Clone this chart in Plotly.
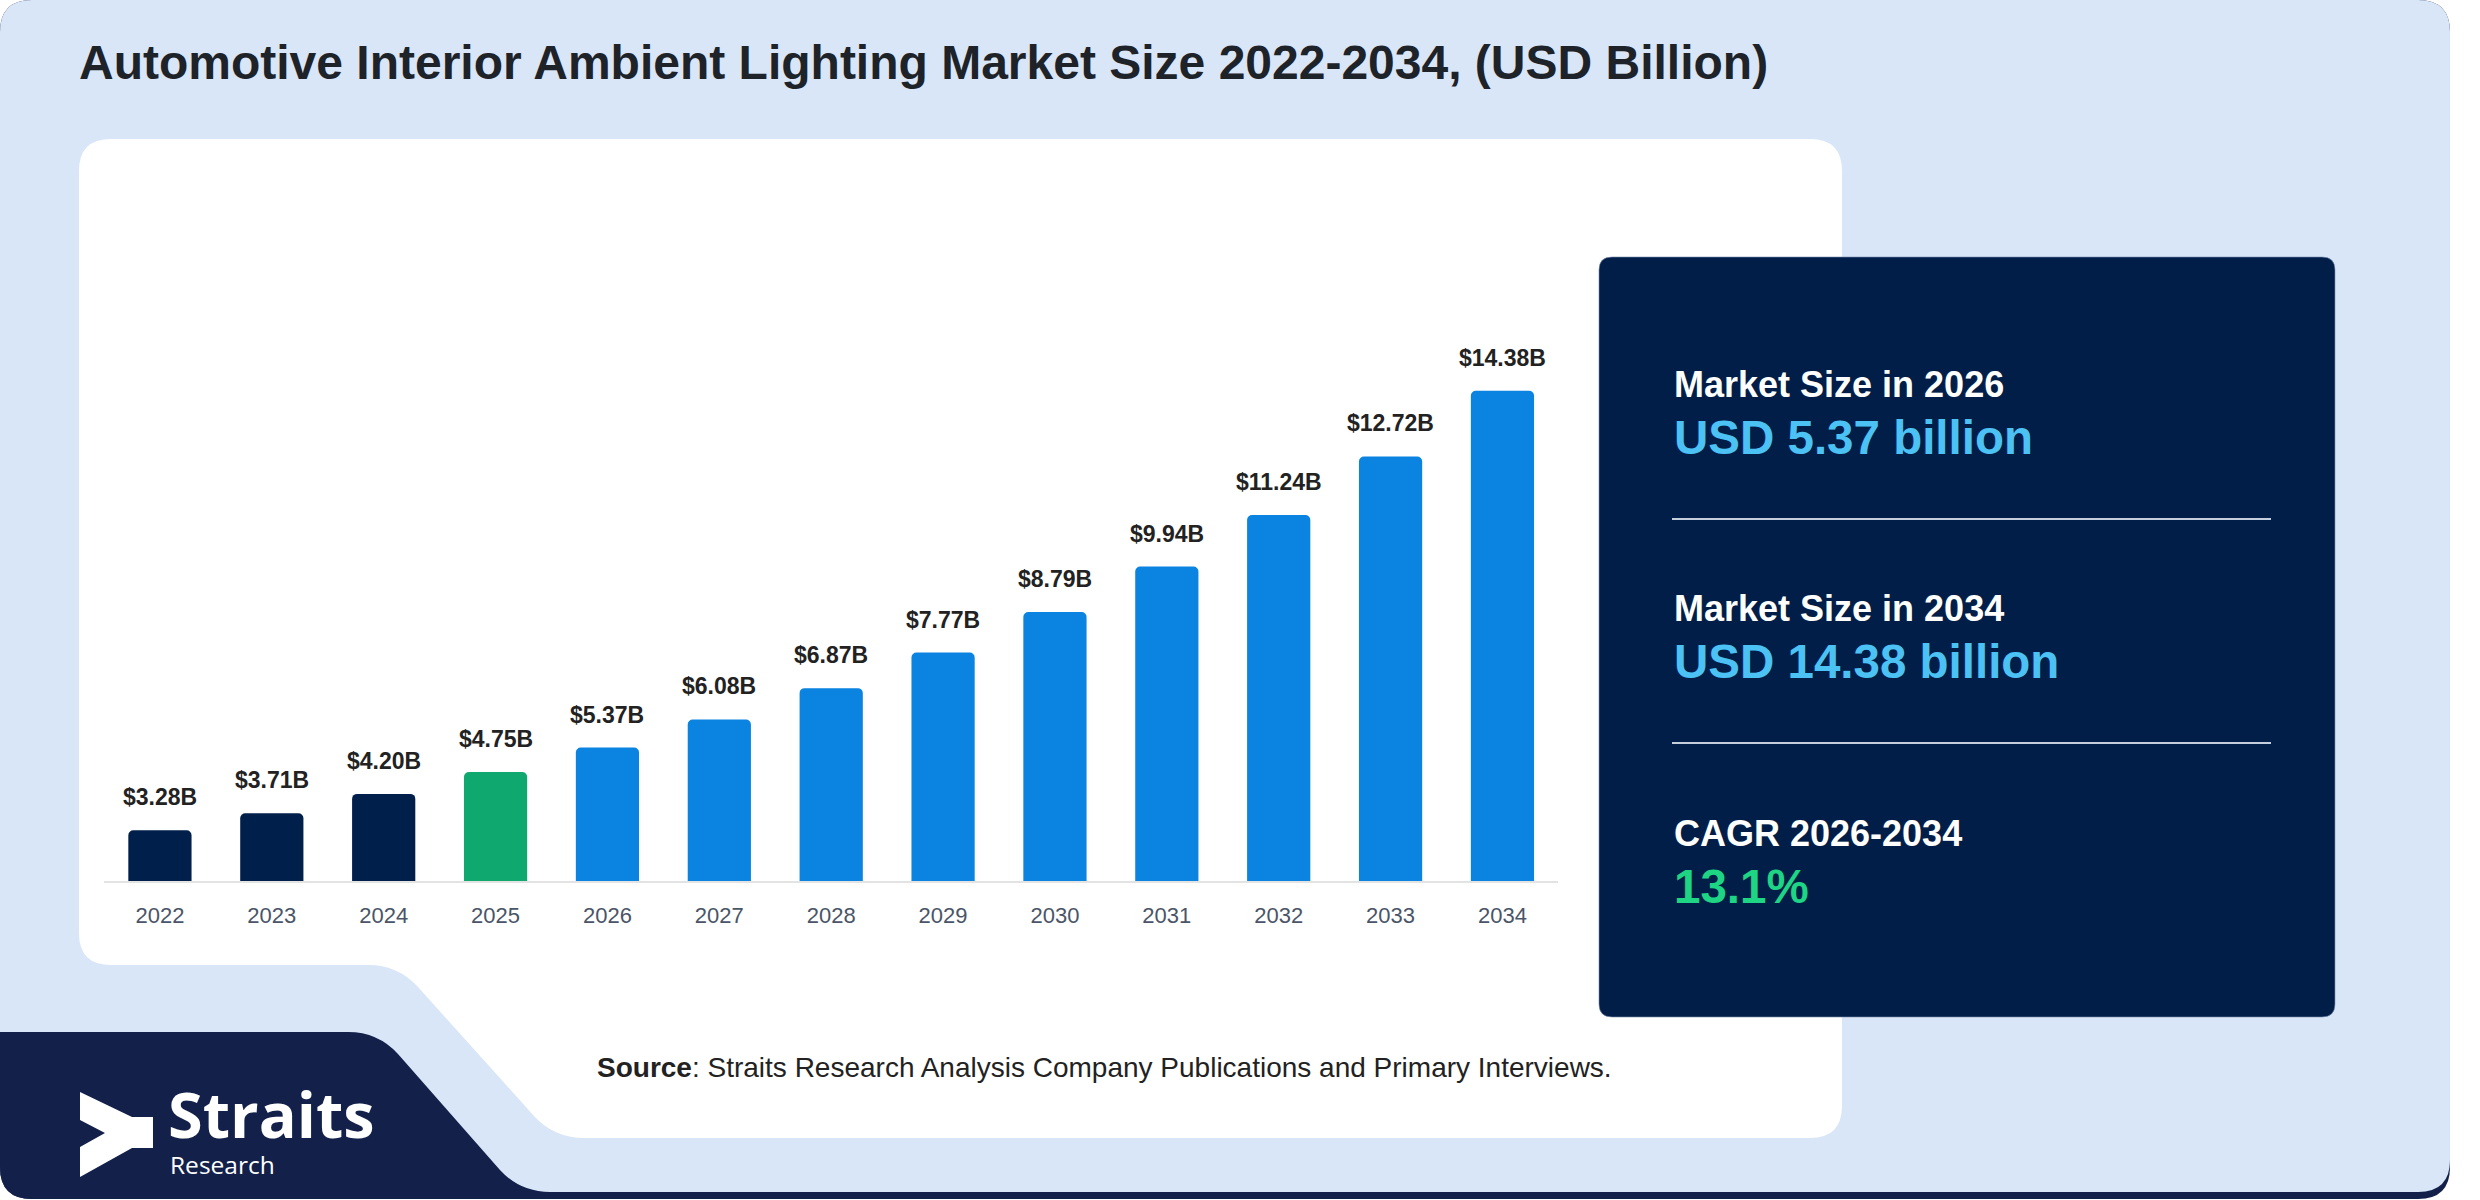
import plotly.graph_objects as go

# ---------------- data ----------------
years = ["2022", "2023", "2024", "2025", "2026", "2027", "2028",
         "2029", "2030", "2031", "2032", "2033", "2034"]
market_size = [3.28, 3.71, 4.20, 4.75, 5.37, 6.08, 6.87,
               7.77, 8.79, 9.94, 11.24, 12.72, 14.38]
base_year = 2025

title_text = "Automotive Interior Ambient Lighting Market Size 2022-2034, (USD Billion)"
stat_labels = ["Market Size in 2026", "Market Size in 2034", "CAGR 2026-2034"]
stat_values = ["USD 5.37 billion", "USD 14.38 billion", "13.1%"]
source_text = "<b>Source</b>: Straits Research Analysis Company Publications and Primary Interviews."

# ---------------- styling ----------------
W, H = 2480, 1200
FONT = "Liberation Sans, Arial, sans-serif"
LIGHT_BG = "#D9E6F8"
NAVY_LOGO = "#13214A"
PANEL = "#001E47"
C_HIST = "#001F4B"
C_BASE = "#0FA86E"
C_FORE = "#0A83E1"


def px(x):
    return x / W


def py(y):
    return 1 - y / H


def path(cmds):
    out = []
    for c in cmds:
        if isinstance(c, str):
            out.append(c)
        else:
            out.append(f"{px(c[0]):.5f},{py(c[1]):.5f}")
    return " ".join(out)


def rrect(x0, y0, x1, y1, r):
    return path(["M", (x0 + r, y0), "L", (x1 - r, y0), "Q", (x1, y0), (x1, y0 + r),
                 "L", (x1, y1 - r), "Q", (x1, y1), (x1 - r, y1),
                 "L", (x0 + r, y1), "Q", (x0, y1), (x0, y1 - r),
                 "L", (x0, y0 + r), "Q", (x0, y0), (x0 + r, y0), "Z"])


shapes = []
# bottom shadow + outer light background
shapes.append(dict(type="path", xref="paper", yref="paper", layer="below",
                   path=rrect(0, 0, 2450, 1199, 32), fillcolor=NAVY_LOGO, line=dict(width=0)))
shapes.append(dict(type="path", xref="paper", yref="paper", layer="below",
                   path=rrect(0, 0, 2450, 1192, 32), fillcolor=LIGHT_BG, line=dict(width=0)))
# navy logo block
shapes.append(dict(type="path", xref="paper", yref="paper", layer="below",
                   path=path(["M", (0, 1032), "L", (348, 1032), "Q", (378, 1032), (398, 1054),
                              "L", (500, 1170), "Q", (520, 1192), (550, 1192),
                              "L", (550, 1199), "L", (32, 1199), "Q", (0, 1199), (0, 1167), "Z"]),
                   fillcolor=NAVY_LOGO, line=dict(width=0)))
# white chart panel with notch
shapes.append(dict(type="path", xref="paper", yref="paper", layer="below",
                   path=path(["M", (111, 139), "L", (1810, 139), "Q", (1842, 139), (1842, 171),
                              "L", (1842, 1106), "Q", (1842, 1138), (1810, 1138),
                              "L", (584, 1138), "Q", (554, 1138), (534, 1116),
                              "L", (418, 987), "Q", (398, 965), (368, 965),
                              "L", (111, 965), "Q", (79, 965), (79, 933),
                              "L", (79, 171), "Q", (79, 139), (111, 139), "Z"]),
                   fillcolor="#FFFFFF", line=dict(width=0)))
# right stats panel
shapes.append(dict(type="path", xref="paper", yref="paper", layer="below",
                   path=rrect(1599, 257, 2335, 1017, 13), fillcolor=PANEL,
                   line=dict(width=1, color="rgba(120,140,175,0.6)")))
for ly in (519, 743):
    shapes.append(dict(type="line", xref="paper", yref="paper", layer="below",
                       x0=px(1672), x1=px(2271), y0=py(ly), y1=py(ly),
                       line=dict(color="#C5CEDD", width=2)))
# logo chevron
shapes.append(dict(type="path", xref="paper", yref="paper", layer="below",
                   path=path(["M", (80, 1092), "L", (132, 1117), "L", (153, 1117), "L", (153, 1148),
                              "L", (132, 1148), "L", (80, 1177), "L", (80, 1147),
                              "L", (105, 1133), "L", (80, 1120), "Z"]),
                   fillcolor="#FFFFFF", line=dict(width=0)))

colors = []
for yv in years:
    yi = int(yv)
    colors.append(C_HIST if yi < base_year else (C_BASE if yi == base_year else C_FORE))

fig = go.Figure()
fig.add_trace(go.Bar(x=years, y=market_size, marker=dict(color=colors, cornerradius=5, line=dict(width=0)),
                     hoverinfo="x+y", showlegend=False))

annotations = []
for i, v in enumerate(market_size):
    annotations.append(dict(x=i, y=v, xref="x", yref="y", text=f"<b>${v:.2f}B</b>",
                            showarrow=False, yanchor="middle", yshift=33,
                            font=dict(family=FONT, size=23, color="#222222")))

annotations.append(dict(x=px(77), y=py(63), xref="paper", yref="paper", xanchor="left", yanchor="middle",
                        text=f"<b>{title_text}</b>", showarrow=False,
                        font=dict(family=FONT, size=48, color="#1E2329")))

label_y = [385, 609, 833]
value_y = [437, 661, 886]
value_colors = ["#4CC2F4", "#4CC2F4", "#1DD583"]
for lab, val, ly, vy, vc in zip(stat_labels, stat_values, label_y, value_y, value_colors):
    annotations.append(dict(x=px(1672), y=py(ly), xref="paper", yref="paper", xanchor="left",
                            yanchor="middle", text=f"<b>{lab}</b>", showarrow=False,
                            font=dict(family=FONT, size=36, color="#FFFFFF")))
    annotations.append(dict(x=px(1672), y=py(vy), xref="paper", yref="paper", xanchor="left",
                            yanchor="middle", text=f"<b>{val}</b>", showarrow=False,
                            font=dict(family=FONT, size=47.5, color=vc)))

annotations.append(dict(x=px(595), y=py(1067), xref="paper", yref="paper", xanchor="left",
                        yanchor="middle", text=source_text, showarrow=False,
                        font=dict(family=FONT, size=28, color="#222222")))

annotations.append(dict(x=px(166), y=py(1113), xref="paper", yref="paper", xanchor="left",
                        yanchor="middle", text="<b>Straits</b>", showarrow=False,
                        font=dict(family="Open Sans, sans-serif", size=63, color="#FFFFFF")))
annotations.append(dict(x=px(168), y=py(1164), xref="paper", yref="paper", xanchor="left",
                        yanchor="middle", text="Research", showarrow=False,
                        font=dict(family="Open Sans, sans-serif", size=24.5, color="#FFFFFF")))

fig.update_layout(
    width=W, height=H, autosize=False,
    margin=dict(l=0, r=0, t=0, b=0, pad=0),
    paper_bgcolor="#FFFFFF", plot_bgcolor="rgba(0,0,0,0)",
    bargap=0.435,
    shapes=shapes, annotations=annotations,
    xaxis=dict(domain=[104 / W, 1558.4 / W], range=[-0.5, 12.5], type="category",
               showline=True, linecolor="#E3E3E3", linewidth=2, showgrid=False, zeroline=False,
               ticks="", ticklabelstandoff=14,
               tickfont=dict(family=FONT, size=22, color="#4A5568")),
    yaxis=dict(domain=[1 - 881 / H, 1 - 326.6 / H], range=[2, 16], visible=False,
               showgrid=False, zeroline=False),
)

fig.write_html("out.html", config={"displayModeBar": False},
               post_script="document.body.style.margin='0';")
